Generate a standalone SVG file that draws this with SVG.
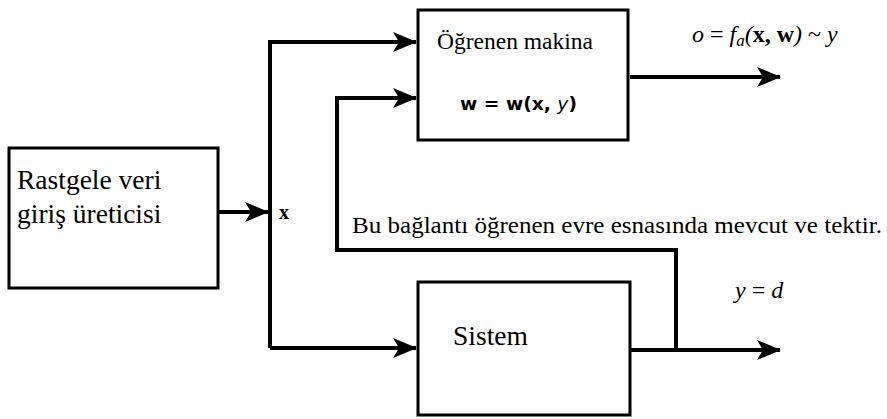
<svg xmlns="http://www.w3.org/2000/svg" width="887" height="419" viewBox="0 0 887 419">
<defs>
<marker id="ah" viewBox="0 0 24 20" refX="23" refY="10" markerWidth="24" markerHeight="20" markerUnits="userSpaceOnUse" orient="auto">
<path d="M0,0 L24,10 L0,20 L6,10 Z" fill="#000"/>
</marker>
</defs>
<rect width="887" height="419" fill="#fff"/>
<g id="connectors" fill="none" stroke="#000" stroke-width="4">
<path d="M218,212 H268" marker-end="url(#ah)"/>
<path d="M270,348 V42 H416" marker-end="url(#ah)"/>
<path d="M270,348 H416" marker-end="url(#ah)"/>
<path d="M676,350 V250 H337 V98 H416" marker-end="url(#ah)"/>
<path d="M630,77 H780" marker-end="url(#ah)"/>
<path d="M630,350 H780" marker-end="url(#ah)"/>
</g>
<g id="generator">
<rect x="9" y="148" width="209" height="140" fill="#fff" stroke="#000" stroke-width="3"/>
<text x="17" y="189" font-size="27.5" font-family="Times New Roman, Liberation Serif, serif">Rastgele veri</text>
<text x="17" y="223" font-size="27.5" font-family="Times New Roman, Liberation Serif, serif">giriş üreticisi</text>
</g>
<g id="learner">
<rect x="418" y="10" width="210" height="130" fill="#fff" stroke="#000" stroke-width="3"/>
<text x="437" y="49" font-size="23.5" font-family="Times New Roman, Liberation Serif, serif">Öğrenen makina</text>
<text x="460" y="110" font-size="17" font-family="DejaVu Sans, sans-serif" font-weight="bold" textLength="117" lengthAdjust="spacingAndGlyphs">w = w(x, <tspan font-style="italic" font-weight="normal">y</tspan>)</text>
</g>
<g id="system">
<rect x="418" y="282" width="212" height="133" fill="#fff" stroke="#000" stroke-width="3"/>
<text x="453" y="345" font-size="27.5" font-family="Times New Roman, Liberation Serif, serif">Sistem</text>
</g>
<g id="labels">
<text x="279" y="219" font-size="20" font-weight="bold" font-family="Times New Roman, Liberation Serif, serif">x</text>
<text x="692" y="42" font-size="24" font-family="Times New Roman, Liberation Serif, serif"><tspan font-style="italic">o</tspan> = <tspan font-style="italic">f<tspan font-size="17" dy="4">a</tspan></tspan><tspan dy="-4" font-style="italic">(</tspan><tspan font-weight="bold">x, w</tspan><tspan font-style="italic">)</tspan> ~ <tspan font-style="italic">y</tspan></text>
<text x="352" y="233" font-size="23" textLength="530" lengthAdjust="spacingAndGlyphs" font-family="Times New Roman, Liberation Serif, serif">Bu bağlantı öğrenen evre esnasında mevcut ve tektir.</text>
<text x="735" y="298" font-size="24" font-family="Times New Roman, Liberation Serif, serif"><tspan font-style="italic">y</tspan> = <tspan font-style="italic">d</tspan></text>
</g>
</svg>
